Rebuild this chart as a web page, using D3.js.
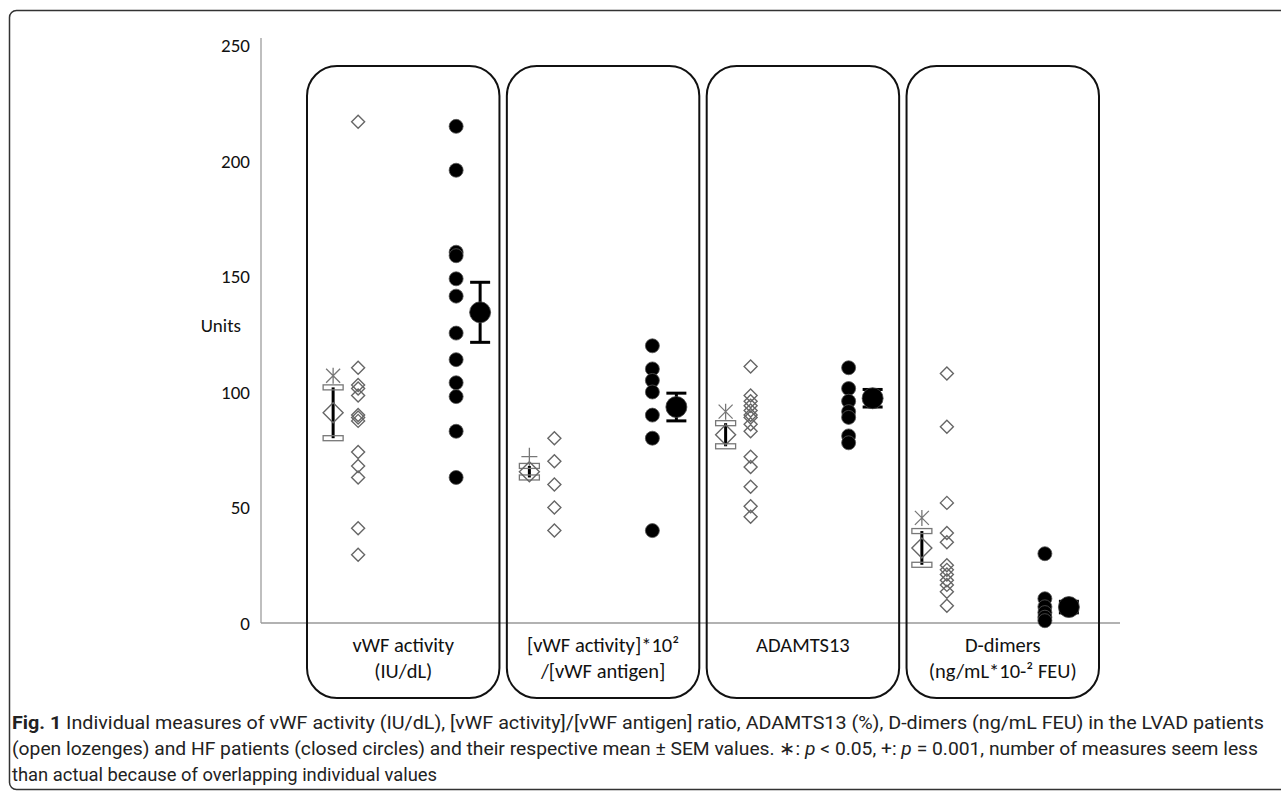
<!DOCTYPE html>
<html>
<head>
<meta charset="utf-8">
<script src="https://cdn.jsdelivr.net/npm/d3@7"></script>
<style>
  html, body { margin: 0; padding: 0; background: #fff; }
  svg { display: block; }
</style>
</head>
<body>
<svg id="chart" width="1281" height="801"></svg>
<script>
// ---------------- data ----------------
const categories = ["vWF activity", "vWF ratio", "ADAMTS13", "D-dimers"];
const categoryLabels = [
  ["vWF activity", "(IU/dL)"],
  ["[vWF activity]*10²", "/[vWF antigen]"],
  ["ADAMTS13"],
  ["D-dimers", "(ng/mL*10-² FEU)"]
];
const yTicks = [0, 50, 100, 150, 200, 250];

// LVAD patients (open lozenges)
const lvadVwf     = [217, 110.5, 103, 101.5, 98.5, 90, 89, 87.5, 74, 68, 63, 41, 29.5];
const lvadRatio   = [80, 70, 60, 50, 40];
const lvadAdamts  = [111, 98.5, 96, 94, 92, 90, 89, 86, 83, 72, 67.5, 59, 50.5, 46];
const lvadDdimers = [108, 85, 52, 39, 35, 25, 23, 21, 18.5, 16.5, 13.5, 7.5];

// HF patients (closed circles)
const hfVwf     = [215, 196, 160.5, 159, 149, 141.5, 125.5, 114, 104, 98, 83, 63];
const hfRatio   = [120, 110, 105, 100, 90, 80, 40];
const hfAdamts  = [110.5, 101.5, 96, 91.5, 89, 81, 78];
const hfDdimers = [30, 10.5, 7, 4.5, 2.5, 1];

// mean ± SEM
const lvadMean = [91, 65.5, 81.5, 32.5];
const lvadSem  = [11, 2.5, 5, 7.3];
const hfMean   = [134.5, 93.5, 97.3, 6.9];
const hfSem    = [13, 6, 3.8, 2.5];

// significance markers (symbol, value)
const sigSymbol = ["star", "plus", "star", "star"];
const sigValue  = [107, 72, 91.5, 45.5];

const lvadValues = [lvadVwf, lvadRatio, lvadAdamts, lvadDdimers];
const hfValues   = [hfVwf, hfRatio, hfAdamts, hfDdimers];

// ---------------- layout ----------------
const svg = d3.select("#chart");
const y = d3.scaleLinear().domain([0, 250]).range([623, 45.5]);
const xData = d3.scaleBand().domain(categories).range([308, 1093]);
const xPanel = d3.scaleBand().domain(categories).range([307, 1099]).paddingInner(0.037);
const offs = { lvadMean: -73, lvad: -48, hf: 50, hfMean: 74 };
const cx = (c, k) => xData(c) + xData.bandwidth() / 2 + offs[k];

const labelFont = "Carlito, Lato, 'Open Sans', sans-serif";

// outer frame
svg.append("rect")
  .attr("x", 9.5).attr("y", 10.5).attr("width", 1300).attr("height", 779)
  .attr("rx", 7).attr("fill", "none").attr("stroke", "#333").attr("stroke-width", 1.5);

// y axis
const yAxis = svg.append("g").attr("transform", "translate(261,0)")
  .call(d3.axisLeft(y).tickValues(yTicks).tickSize(0).tickPadding(11));
yAxis.select(".domain").remove();
yAxis.selectAll("text")
  .attr("font-family", labelFont).attr("font-size", 19).attr("font-weight", 500).attr("fill", "#111");
svg.append("line").attr("x1", 261).attr("x2", 261).attr("y1", 38).attr("y2", y(0))
  .attr("stroke", "#aaa").attr("stroke-width", 1.5);
svg.append("line").attr("x1", 261).attr("x2", 1120).attr("y1", y(0)).attr("y2", y(0))
  .attr("stroke", "#999").attr("stroke-width", 1.5);
svg.append("text").attr("x", 241).attr("y", 332).attr("text-anchor", "end")
  .attr("font-family", labelFont).attr("font-size", 19).attr("font-weight", 500)
  .attr("fill", "#111").text("Units");

// panels
const panels = svg.selectAll("g.panel").data(categories).join("g").attr("class", "panel");
panels.append("rect")
  .attr("x", d => xPanel(d)).attr("y", 66)
  .attr("width", xPanel.bandwidth()).attr("height", 632)
  .attr("rx", 30).attr("fill", "none").attr("stroke", "#111").attr("stroke-width", 2);
panels.each(function(d, i) {
  const g = d3.select(this);
  const c = xPanel(d) + xPanel.bandwidth() / 2;
  categoryLabels[i].forEach((t, j) => {
    g.append("text").attr("x", c).attr("y", 652 + j * 26)
      .attr("text-anchor", "middle").attr("font-family", labelFont)
      .attr("font-size", 20.5).attr("font-weight", 500).attr("fill", "#111").text(t);
  });
});

const diamond = s => `M0,${-s}L${s},0L0,${s}L${-s},0Z`;

categories.forEach((c, i) => {
  const g = svg.append("g");
  // LVAD individual points
  g.selectAll("path.lv").data(lvadValues[i]).join("path").attr("class", "lv")
    .attr("transform", v => `translate(${cx(c, "lvad")},${y(v)})`)
    .attr("d", diamond(6.5)).attr("fill", "none").attr("stroke", "#666").attr("stroke-width", 1.4);
  // HF individual points
  g.selectAll("circle.hf").data(hfValues[i]).join("circle").attr("class", "hf")
    .attr("cx", cx(c, "hf")).attr("cy", v => y(v)).attr("r", 7)
    .attr("fill", "#000").attr("stroke", "#555").attr("stroke-width", 0.8);

  // LVAD mean ± SEM
  const lx = cx(c, "lvadMean");
  const lTop = y(lvadMean[i] + lvadSem[i]), lBot = y(lvadMean[i] - lvadSem[i]);
  g.append("line").attr("x1", lx).attr("x2", lx).attr("y1", lTop).attr("y2", lBot)
    .attr("stroke", "#000").attr("stroke-width", 3);
  [lTop, lBot].forEach(yy => {
    g.append("rect").attr("x", lx - 10).attr("y", yy - 2.5).attr("width", 20).attr("height", 5)
      .attr("fill", "none").attr("stroke", "#777").attr("stroke-width", 1.3);
  });
  g.append("path").attr("transform", `translate(${lx},${y(lvadMean[i])})`)
    .attr("d", diamond(10)).attr("fill", "none").attr("stroke", "#666").attr("stroke-width", 1.4);
  const sy = y(sigValue[i]);
  const sPath = sigSymbol[i] === "star"
    ? "M-7,-7L7,7M-7,7L7,-7M0,-8L0,8"
    : "M-8,0L8,0M0,-9L0,9";
  g.append("path").attr("transform", `translate(${lx},${sy})`).attr("d", sPath)
    .attr("fill", "none").attr("stroke", "#777").attr("stroke-width", 1.3);

  // HF mean ± SEM
  const hx = cx(c, "hfMean");
  const hTop = y(hfMean[i] + hfSem[i]), hBot = y(hfMean[i] - hfSem[i]);
  g.append("line").attr("x1", hx).attr("x2", hx).attr("y1", hTop).attr("y2", hBot)
    .attr("stroke", "#000").attr("stroke-width", 3);
  [hTop, hBot].forEach(yy => {
    g.append("line").attr("x1", hx - 10).attr("x2", hx + 10).attr("y1", yy).attr("y2", yy)
      .attr("stroke", "#000").attr("stroke-width", 3);
  });
  g.append("circle").attr("cx", hx).attr("cy", y(hfMean[i])).attr("r", 10.5)
    .attr("fill", "#000").attr("stroke", "#444").attr("stroke-width", 0.8);
});

// caption
const capFont = "'Liberation Sans Narrow', 'Roboto', sans-serif";
const cap1 = svg.append("text").attr("x", 12).attr("y", 729)
  .attr("font-family", capFont).attr("font-size", 19).attr("fill", "#222")
  .attr("textLength", 1252).attr("lengthAdjust", "spacingAndGlyphs");
cap1.append("tspan").attr("font-weight", "bold").text("Fig. 1");
cap1.append("tspan").text(" Individual measures of vWF activity (IU/dL), [vWF activity]/[vWF antigen] ratio, ADAMTS13 (%), D-dimers (ng/mL FEU) in the LVAD patients");

const cap2 = svg.append("text").attr("x", 12).attr("y", 755)
  .attr("font-family", capFont).attr("font-size", 19).attr("fill", "#222")
  .attr("textLength", 1246).attr("lengthAdjust", "spacingAndGlyphs");
cap2.append("tspan").text("(open lozenges) and HF patients (closed circles) and their respective mean ± SEM values. ∗: ");
cap2.append("tspan").attr("font-style", "italic").text("p");
cap2.append("tspan").text(" < 0.05, +: ");
cap2.append("tspan").attr("font-style", "italic").text("p");
cap2.append("tspan").text(" = 0.001, number of measures seem less");

svg.append("text").attr("x", 12).attr("y", 781)
  .attr("font-family", capFont).attr("font-size", 19).attr("fill", "#222")
  .attr("textLength", 425).attr("lengthAdjust", "spacingAndGlyphs")
  .text("than actual because of overlapping individual values");
</script>
</body>
</html>
